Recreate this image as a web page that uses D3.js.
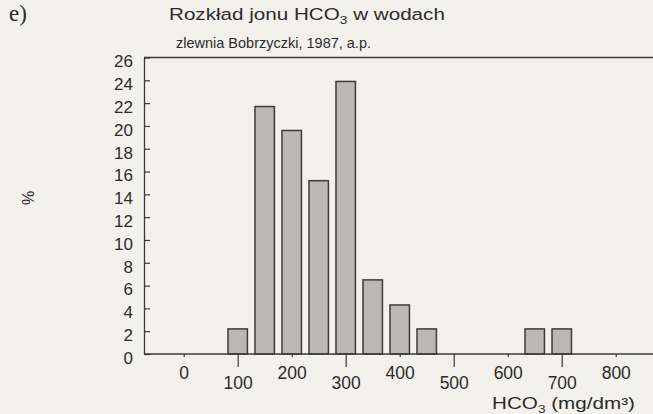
<!DOCTYPE html>
<meta charset="utf-8">
<script src="https://d3js.org/d3.v7.min.js"></script>
<style>
  body { margin: 0; background: #f3f1eb; }
  svg { display: block; }
  text { font-family: "Liberation Sans", Arial, sans-serif; fill: #2b2b2b; }
</style>
<div id="chart"></div>
<script>
// HCO3 concentration classes (bin centres, mg/dm3) and share of samples (%)
const binCenters = [100, 150, 200, 250, 300, 350, 400, 450, 650, 700];
const percents = [2.2, 21.7, 19.6, 15.2, 23.9, 6.5, 4.3, 2.2, 2.2, 2.2];
const yTicks = [0, 2, 4, 6, 8, 10, 12, 14, 16, 18, 20, 22, 24, 26];
const xTicks = [0, 100, 200, 300, 400, 500, 600, 700, 800];

const W = 653, H = 414;
const plotLeft = 144, plotRight = 653, plotTop = 57.5, plotBottom = 354;
const ink = "#3a3a3a";

const svg = d3.select("#chart").append("svg")
  .attr("width", W).attr("height", H);

const x = d3.scaleLinear().domain([-73.5, 869]).range([plotLeft, plotRight]);
const y = d3.scaleLinear().domain([0, 26]).range([plotBottom, plotTop]);

// stretch a text horizontally so it spans the given width (the scan's font is wider)
function fitWidth(sel, x0, y0, width) {
  const w = sel.node().getBBox().width;
  sel.attr("transform", `translate(${x0},${y0}) scale(${width / w},1)`);
}

// panel letter
svg.append("text")
  .attr("x", 9).attr("y", 21)
  .style("font-family", "'Liberation Serif', 'DejaVu Serif', serif")
  .style("font-size", "23px")
  .text("e)");

// title
const title = svg.append("text").style("font-size", "16.5px");
title.append("tspan").text("Rozkład jonu HCO");
title.append("tspan").attr("dy", 4).style("font-size", "11px").text("3");
title.append("tspan").attr("dy", -4).text(" w wodach");
fitWidth(title, 169, 20, 276);

const subtitle = svg.append("text")
  .style("font-size", "14px")
  .text("zlewnia Bobrzyczki, 1987, a.p.");
fitWidth(subtitle, 176, 48, 195);

// bars
const barHalf = 18;
svg.append("g")
  .selectAll("rect")
  .data(binCenters)
  .join("rect")
  .attr("x", d => x(d - barHalf))
  .attr("width", d => x(d + barHalf) - x(d - barHalf))
  .attr("y", (d, i) => y(percents[i]))
  .attr("height", (d, i) => y(0) - y(percents[i]))
  .attr("fill", "#bab8b3")
  .attr("stroke", "#3c3c3c")
  .attr("stroke-width", 1.5);

// frame lines
const frame = svg.append("g").attr("stroke", ink).attr("stroke-width", 1.3);
frame.append("line").attr("x1", plotLeft).attr("x2", plotRight).attr("y1", plotTop).attr("y2", plotTop);
frame.append("line").attr("x1", plotLeft).attr("x2", plotRight).attr("y1", plotBottom).attr("y2", plotBottom);

// y axis (ticks pointing inward)
const yAxis = svg.append("g")
  .attr("transform", `translate(${plotLeft},0)`)
  .call(d3.axisLeft(y).tickValues(yTicks).tickSizeInner(-6).tickSizeOuter(0).tickPadding(11));
yAxis.select(".domain").attr("stroke", ink).attr("stroke-width", 1.3);
yAxis.selectAll(".tick line").attr("stroke", ink).attr("stroke-width", 1.2);
yAxis.selectAll(".tick text")
  .attr("dy", "0.55em")
  .style("font-size", "17px")
  .attr("fill", "#2b2b2b");

// x axis: labels alternate between two rows, odd hundreds get long ticks
const xAxis = svg.append("g")
  .attr("transform", `translate(0,${plotBottom})`)
  .call(d3.axisBottom(x).tickValues(xTicks).tickSize(0).tickPadding(0));
xAxis.select(".domain").remove();
xAxis.selectAll(".tick line")
  .attr("stroke", ink).attr("stroke-width", 1.2)
  .attr("y1", 0)
  .attr("y2", (d, i) => i % 2 ? 13 : 3);
xAxis.selectAll(".tick text")
  .attr("y", (d, i) => i % 2 ? 28.5 : 19)
  .attr("dy", "0.36em")
  .style("font-size", "17.5px")
  .attr("fill", "#2b2b2b");

// y label
svg.append("text")
  .attr("transform", "translate(28,198) rotate(-90)")
  .attr("text-anchor", "middle")
  .attr("dy", "0.35em")
  .style("font-size", "16px")
  .text("%");

// x label
const xl = svg.append("text").style("font-size", "16px");
xl.append("tspan").text("HCO");
xl.append("tspan").attr("dy", 4).style("font-size", "10.5px").text("3");
xl.append("tspan").attr("dy", -4).text(" (mg/dm³)");
fitWidth(xl, 492, 408.5, 143);
</script>
